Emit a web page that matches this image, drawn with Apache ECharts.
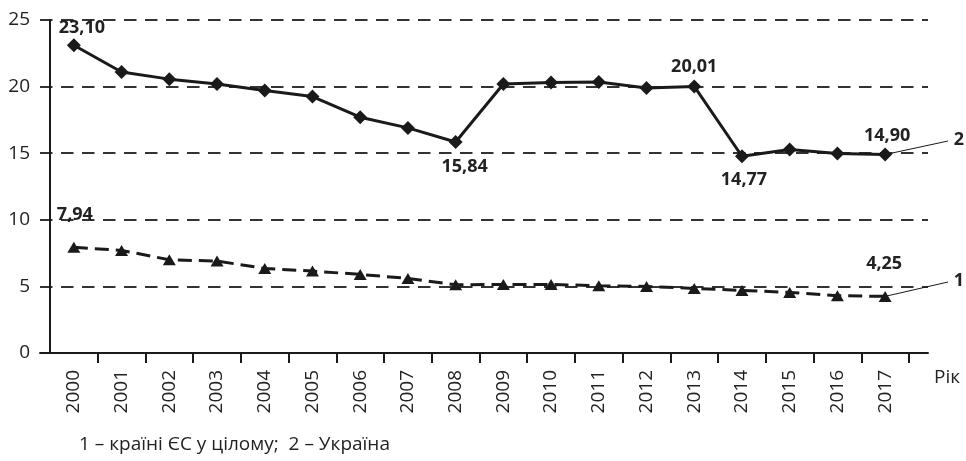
<!DOCTYPE html>
<html>
<head>
<meta charset="utf-8">
<script src="https://cdn.jsdelivr.net/npm/echarts@6/dist/echarts.min.js"></script>
<style>
html,body{margin:0;padding:0;background:#fff;}
#c{width:966px;height:461px;}
</style>
</head>
<body>
<div id="c"></div>
<script>
// ---- data ----
var years = ['2000','2001','2002','2003','2004','2005','2006','2007','2008','2009','2010','2011','2012','2013','2014','2015','2016','2017'];
var euValues = [7.94, 7.70, 7.00, 6.90, 6.35, 6.15, 5.90, 5.60, 5.12, 5.15, 5.15, 5.05, 5.00, 4.85, 4.70, 4.55, 4.30, 4.25];
var uaValues = [23.10, 21.10, 20.56, 20.20, 19.70, 19.25, 17.70, 16.90, 15.84, 20.20, 20.30, 20.35, 19.90, 20.01, 14.77, 15.28, 14.98, 14.90];
var yTicks = [0, 5, 10, 15, 20, 25];
var xAxisName = 'Рік';
var seriesNames = ['1', '2'];
var footnote = '1 – країні ЄС у цілому;  2 – Україна';

// label placement (styles, not data)
var euLabelOffsets = {0: [1, -32], 17: [-1, -33]};
var uaLabelOffsets = {0: [8, -17], 8: [9, 25], 13: [0, -20], 14: [2, 24], 17: [2, -19]};

var FONT = 'Open Sans';
var INK = '#1a1a1a';

function fmt(v){ return v.toFixed(2).replace('.', ','); }
function buildData(values, offsets){
  return values.map(function(v, i){
    var item = {value: v};
    if (offsets[i]) {
      item.label = {
        show: true, position: 'inside', offset: offsets[i],
        formatter: fmt(v), color: '#222', fontFamily: FONT,
        fontWeight: 'bold', fontSize: 18, align: 'center', verticalAlign: 'middle'
      };
    }
    return item;
  });
}

var chart = echarts.init(document.getElementById('c'), null, {renderer: 'canvas'});
var yMin = yTicks[0], yMax = yTicks[yTicks.length - 1], yStep = yTicks[1] - yTicks[0];
var last = years.length - 1;

chart.setOption({
  animation: false,
  backgroundColor: '#fff',
  textStyle: {fontFamily: FONT},
  title: [
    {
      text: footnote, left: 74, top: 430,
      textStyle: {fontFamily: FONT, fontSize: 19, fontWeight: 'normal', color: '#222'}
    },
    {
      text: xAxisName, left: 929, top: 363,
      textStyle: {fontFamily: FONT, fontSize: 19, fontWeight: 'normal', color: '#222'}
    }
  ],
  grid: [
    {left: 50, right: 57, top: 20, bottom: 108},
    {left: 40, right: 38, top: 20, bottom: 108}
  ],
  xAxis: [
    {
      type: 'category', gridIndex: 0, data: years, boundaryGap: true,
      axisLine: {show: false},
      axisTick: {show: true, length: 10, lineStyle: {color: INK, width: 2},
                 interval: function(i){ return i !== 0; }},
      axisLabel: {rotate: 90, margin: 17, fontSize: 19, color: '#222', fontFamily: FONT},
      splitLine: {show: false}
    },
    {
      type: 'value', gridIndex: 1, min: 0, max: 1,
      axisLine: {show: true, lineStyle: {color: INK, width: 2}},
      axisTick: {show: false}, axisLabel: {show: false}, splitLine: {show: false}
    }
  ],
  yAxis: [
    {
      type: 'value', gridIndex: 0, min: yMin, max: yMax, interval: yStep,
      axisLine: {show: true, lineStyle: {color: INK, width: 2}},
      axisTick: {show: false}, axisLabel: {show: false}, splitLine: {show: false}
    },
    {
      type: 'value', gridIndex: 1, min: yMin, max: yMax, interval: yStep,
      axisLine: {show: false}, axisTick: {show: false},
      axisLabel: {margin: 10, fontSize: 19, color: '#222', fontFamily: FONT},
      splitLine: {show: true, showMinLine: false,
                  lineStyle: {color: '#333', width: 2, type: [12.5, 8.5]}}
    }
  ],
  series: [
    {
      name: seriesNames[0], type: 'line', xAxisIndex: 0, yAxisIndex: 0,
      data: buildData(euValues, euLabelOffsets),
      symbol: 'triangle', symbolSize: [13, 11],
      lineStyle: {color: INK, width: 3, type: [14, 7]},
      itemStyle: {color: INK},
      z: 5,
      markLine: {
        silent: true, symbol: ['none', 'none'], animation: false,
        lineStyle: {color: INK, width: 1, type: 'solid'},
        label: {show: true, position: 'end', formatter: seriesNames[0], distance: 6,
                color: '#222', fontFamily: FONT, fontWeight: 'bold', fontSize: 18},
        data: [[{coord: [years[last], euValues[last]]}, {x: 948, y: 282}]]
      }
    },
    {
      name: seriesNames[1], type: 'line', xAxisIndex: 0, yAxisIndex: 0,
      data: buildData(uaValues, uaLabelOffsets),
      symbol: 'diamond', symbolSize: 14,
      lineStyle: {color: INK, width: 3, type: 'solid'},
      itemStyle: {color: INK},
      z: 6,
      markLine: {
        silent: true, symbol: ['none', 'none'], animation: false,
        lineStyle: {color: INK, width: 1, type: 'solid'},
        label: {show: true, position: 'end', formatter: seriesNames[1], distance: 6,
                color: '#222', fontFamily: FONT, fontWeight: 'bold', fontSize: 18},
        data: [[{coord: [years[last], uaValues[last]]}, {x: 948, y: 141}]]
      }
    }
  ]
});
</script>
</body>
</html>
